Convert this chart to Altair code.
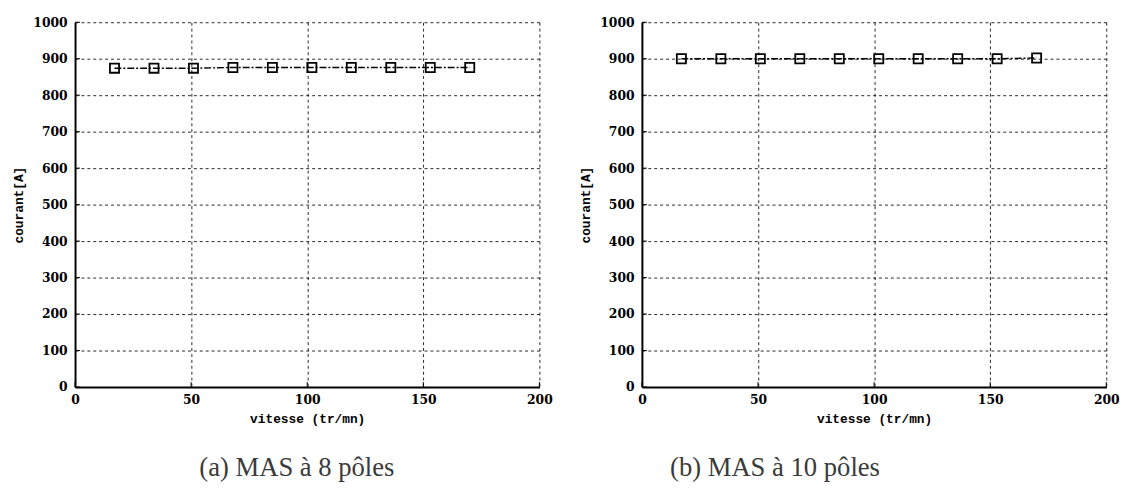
import altair as alt
import pandas as pd

vitesse = [17, 34, 51, 68, 85, 102, 119, 136, 153, 170]
courant_8 = [874, 874, 874, 876, 876, 876, 876, 876, 876, 876]
courant_10 = [900, 900, 900, 900, 900, 900, 900, 900, 900, 902]
captions = ["(a) MAS à 8 pôles", "(b) MAS à 10 pôles"]
x_ticks = [0, 50, 100, 150, 200]
y_ticks = [0, 100, 200, 300, 400, 500, 600, 700, 800, 900, 1000]

W, H = 471, 370
FONT = "DejaVu Serif"
TFONT = "Liberation Mono"


def panel(values, caption, cap_x):
    df = pd.DataFrame({"vitesse": vitesse, "courant": values})
    xs = alt.Scale(domain=[0, 200], nice=False)
    ys = alt.Scale(domain=[0, 1000], nice=False)
    xaxis = alt.Axis(values=x_ticks, title="vitesse (tr/mn)", grid=True,
                     ticks=False, labelPadding=7, titlePadding=7,
                     format="d", labelFlush=False, labelOverlap=False)
    yaxis = alt.Axis(values=y_ticks, title="courant[A]", grid=True,
                     ticks=False, labelPadding=8, titlePadding=7,
                     format="d", labelOverlap=False, labelFlush=False)
    xenc = alt.X("vitesse:Q", scale=xs, axis=xaxis)
    yenc = alt.Y("courant:Q", scale=ys, axis=yaxis)
    base = alt.Chart(df)
    line = base.mark_line(color="black", strokeWidth=1.4,
                          strokeDash=[7, 2, 2, 2]).encode(x=xenc, y=yenc)
    pts = base.mark_point(shape="square", filled=False, color="black",
                          size=85, strokeWidth=1.8, opacity=1).encode(x=xenc, y=yenc)
    xt = pd.DataFrame({"vitesse": x_ticks})
    yt = pd.DataFrame({"courant": y_ticks})
    xtick = alt.Chart(xt).mark_rule(color="black", strokeWidth=1).encode(
        x=xenc, y=alt.value(H), y2=alt.value(H - 5))
    ytick = alt.Chart(yt).mark_rule(color="black", strokeWidth=1).encode(
        y=yenc, x=alt.value(0), x2=alt.value(5))
    cap = alt.Chart(pd.DataFrame({"c": [caption]})).mark_text(
        font="Liberation Serif", fontSize=27, color="#3a3a3a",
        baseline="alphabetic", align="center").encode(
        text="c:N", x=alt.value(cap_x), y=alt.value(460))
    return alt.layer(line, pts, xtick, ytick, cap).properties(width=W, height=H)


left = panel(courant_8, captions[0], 225)
right = panel(courant_10, captions[1], 135)

chart = alt.hconcat(left, right, spacing=27).configure_view(
    stroke=None
).configure_axis(
    labelFont=FONT, labelFontWeight="bold", labelFontSize=12.5, labelColor="black",
    titleFont=TFONT, titleFontWeight="bold", titleFontSize=13, titleColor="black",
    domainColor="black", domainWidth=2,
    gridColor="black", gridDash=[3, 3], gridOpacity=0.85, gridWidth=1,
)

chart.save("out.html", embed_options={"renderer": "svg", "actions": False})
